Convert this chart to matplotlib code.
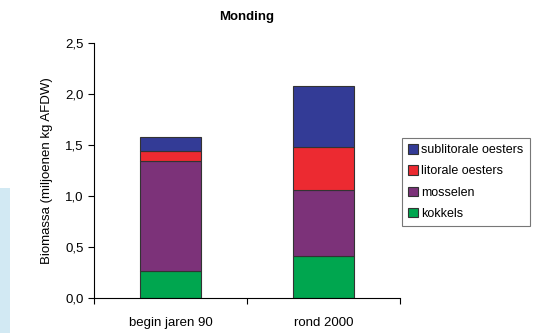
import numpy as np
import matplotlib.pyplot as plt
from matplotlib.patches import Rectangle

plt.rcParams['font.family'] = ['Liberation Sans', 'DejaVu Sans']

categories = ['begin jaren 90', 'rond 2000']
series = ['kokkels', 'mosselen', 'litorale oesters', 'sublitorale oesters']
kokkels = [0.26, 0.41]
mosselen = [1.08, 0.65]
litorale = [0.10, 0.42]
sublitorale = [0.14, 0.60]
colors = ['#00a64f', '#7c3279', '#ec2a31', '#333b96']

fs = 9.5

fig = plt.figure(figsize=(5.39, 3.33), dpi=100)
# light blue strip at left edge
fig.patches.append(Rectangle((0, 0), 10/539, 145/333, transform=fig.transFigure,
                             facecolor='#d2e9f3', edgecolor='none'))
ax = fig.add_axes([94/539, 35/333, 306/539, 255/333])

x = np.arange(len(categories))
bottom = np.zeros(len(categories))
handles = []
for vals, name, c in zip([kokkels, mosselen, litorale, sublitorale], series, colors):
    b = ax.bar(x, vals, width=0.4, bottom=bottom, color=c, edgecolor='#333333',
               linewidth=0.8, label=name)
    handles.append(b)
    bottom += np.array(vals)

ax.set_xlim(-0.5, 1.5)
ax.set_ylim(0, 2.5)
ax.set_yticks(np.arange(0, 2.51, 0.5))
ax.set_yticklabels([f'{v:.1f}'.replace('.', ',') for v in np.arange(0, 2.51, 0.5)])
ax.set_xticks([-0.5, 0.5, 1.5])
ax.set_xticklabels([])
ax.set_xticks(x, minor=True)
ax.set_xticklabels(categories, minor=True)
ax.tick_params(axis='x', which='minor', length=0, pad=14)
ax.tick_params(axis='both', which='major', length=4, width=0.8, labelsize=fs)
ax.tick_params(axis='x', which='minor', labelsize=fs)
for s in ['top', 'right']:
    ax.spines[s].set_visible(False)

ax.set_ylabel('Biomassa (miljoenen kg AFDW)', fontsize=fs, labelpad=9)
fig.text(247/539, 1 - 17/333, 'Monding', ha='center', va='center',
         fontsize=fs, fontweight='bold')

leg = fig.legend(handles[::-1], series[::-1], loc='upper left',
                 bbox_to_anchor=(402/539, 1 - 138/333), borderaxespad=0,
                 fontsize=9, frameon=True, fancybox=False, edgecolor='#555555',
                 handlelength=0.8, handleheight=0.8, handletextpad=0.25,
                 labelspacing=0.72, borderpad=0.5)
leg.get_frame().set_linewidth(0.8)

fig.savefig('out.png', dpi=100)
